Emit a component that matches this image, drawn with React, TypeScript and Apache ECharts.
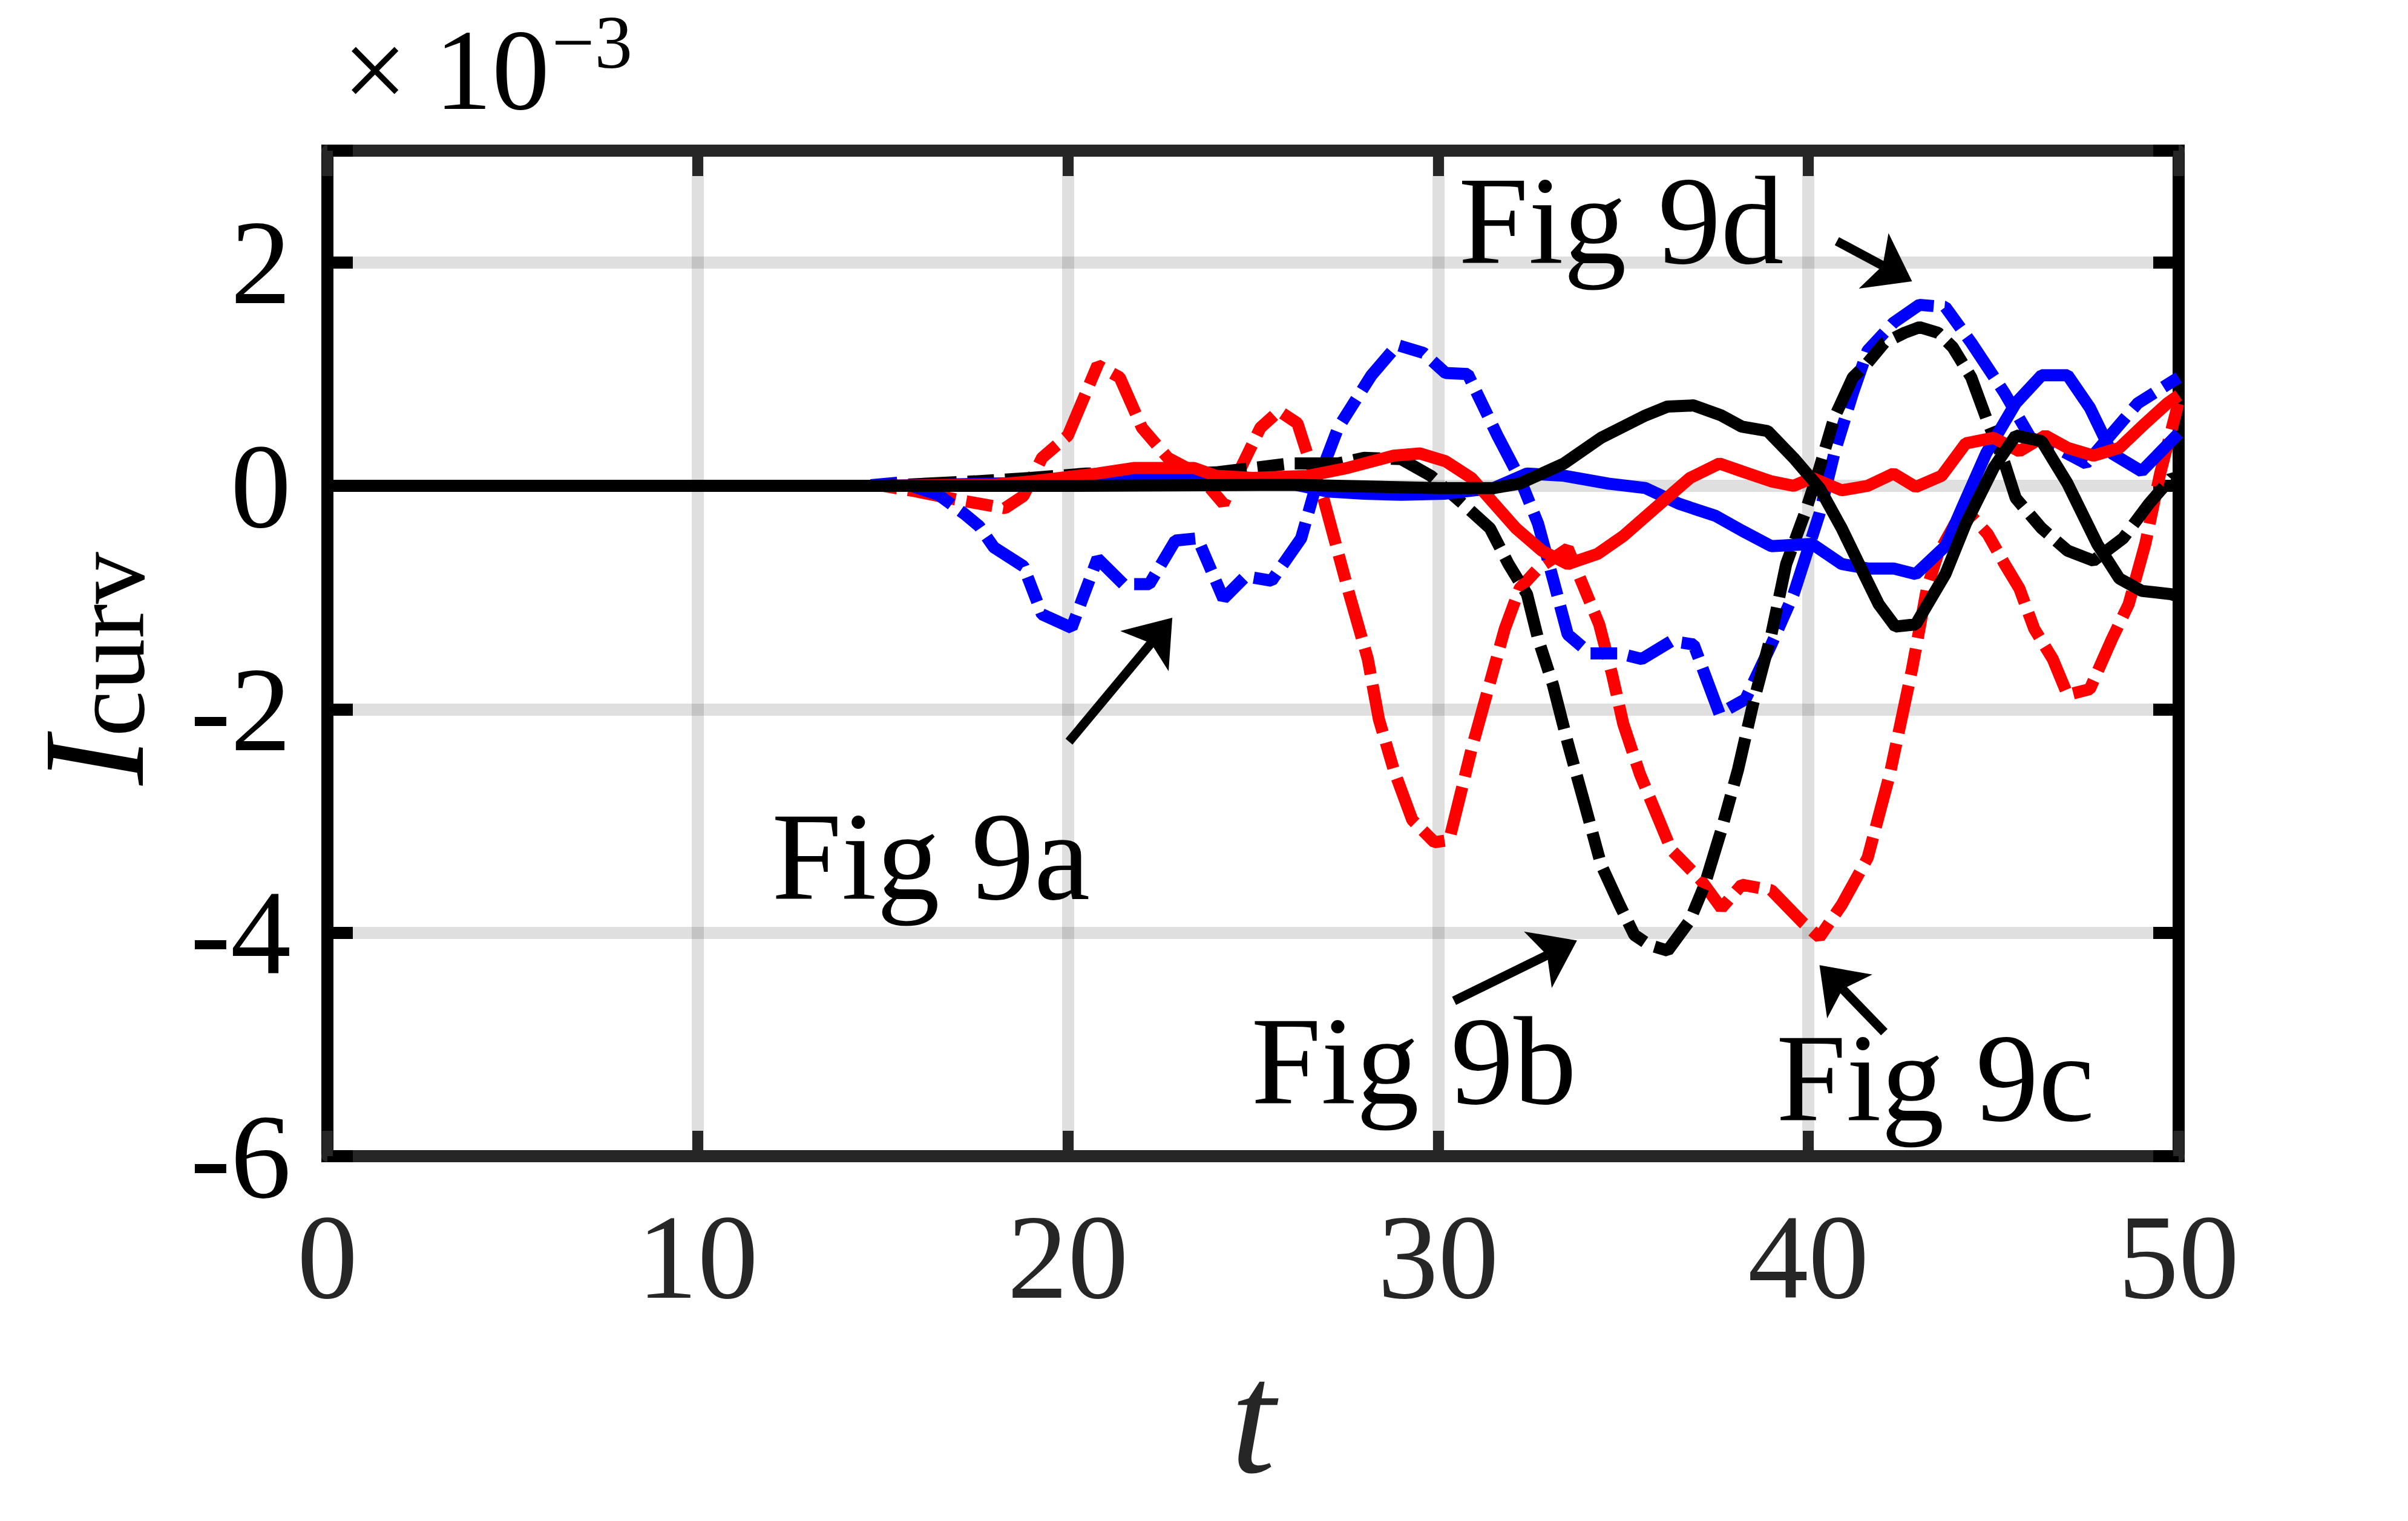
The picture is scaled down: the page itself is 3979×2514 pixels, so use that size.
import React, { useEffect, useRef } from "react";
import * as echarts from "echarts";

const W = 3979;
const H = 2514;
const FONT = "Liberation Serif, Times New Roman, serif";

// ---------- data (I_curv in units of 1e-3) ----------
const redDashT = [0, 15, 15.9, 17.1, 18.3, 18.8, 19.3, 20, 20.8, 21.4, 22, 22.7, 23.5, 24.2, 24.7, 25.2, 25.7, 26.2, 26.5, 26.9, 27.6, 28.1, 28.4, 28.8, 29.3, 29.9, 30.3, 30.9, 31.35, 31.8, 32.2, 32.7, 33.5, 33.9, 34.35, 34.7, 35, 35.45, 35.9, 36.3, 37.1, 37.65, 38.2, 39, 39.85, 40.3, 40.9, 41.6, 42.2, 42.8, 43.2, 43.5, 43.96, 44.4, 44.84, 45.3, 45.7, 46.1, 46.6, 47, 47.6, 48.2, 48.65, 49.1, 49.5, 50];
const redDashY = [0, 0, -0.05, -0.13, -0.2, -0.09, 0.25, 0.45, 1.08, 0.97, 0.52, 0.25, 0.11, -0.16, 0.18, 0.52, 0.67, 0.56, 0.25, -0.11, -0.97, -1.55, -2.09, -2.54, -2.99, -3.19, -3.17, -2.36, -1.82, -1.28, -0.92, -0.74, -0.56, -0.88, -1.24, -1.69, -2.13, -2.58, -2.94, -3.26, -3.53, -3.78, -3.57, -3.62, -3.91, -4.04, -3.75, -3.33, -2.58, -1.64, -0.92, -0.61, -0.34, -0.27, -0.43, -0.7, -0.92, -1.28, -1.55, -1.87, -1.82, -1.37, -1.06, -0.52, 0.11, 0.75];

const blueDashT = [0, 14.5, 15.5, 16.5, 17.2, 17.6, 18, 18.8, 19.3, 20.1, 20.8, 21.5, 22.2, 22.9, 23.5, 24.2, 24.8, 25.5, 26.3, 26.7, 27.3, 28.2, 28.9, 29.6, 30.2, 30.8, 31.6, 32.2, 32.7, 33.1, 33.5, 34.1, 34.9, 35.5, 36.3, 36.9, 37.6, 38.3, 39, 39.6, 40.3, 40.7, 41.2, 41.6, 42.3, 43, 43.7, 44.4, 45.3, 46, 46.7, 47.5, 48.2, 48.9, 50];
const blueDashY = [0, 0, 0.03, -0.08, -0.25, -0.36, -0.55, -0.72, -1.15, -1.27, -0.65, -0.88, -0.88, -0.49, -0.47, -1.01, -0.81, -0.85, -0.47, 0, 0.52, 0.99, 1.26, 1.19, 1.01, 1.0, 0.45, 0.07, -0.34, -0.83, -1.33, -1.5, -1.5, -1.55, -1.39, -1.42, -2.04, -1.91, -1.42, -0.97, -0.25, 0.29, 0.83, 1.21, 1.46, 1.62, 1.6, 1.28, 0.83, 0.43, 0.34, 0.2, 0.47, 0.74, 0.97];

const blackDashT = [0, 15, 17.5, 19, 20.5, 22, 24, 26, 27.3, 28, 29, 29.8, 30.6, 31.4, 31.9, 32.4, 32.7, 33.1, 33.5, 34, 34.4, 34.9, 35.3, 35.7, 36.2, 36.8, 37.2, 37.65, 38.1, 38.5, 39, 39.4, 39.9, 40.3, 40.7, 41.2, 41.6, 42.05, 42.6, 43, 43.5, 43.9, 44.4, 44.8, 45.3, 45.6, 46.3, 47, 47.7, 48.5, 49.2, 49.8, 50];
const blackDashY = [0, 0, 0.04, 0.07, 0.11, 0.1, 0.12, 0.2, 0.2, 0.25, 0.24, 0.09, -0.14, -0.38, -0.7, -0.97, -1.37, -1.78, -2.3, -2.9, -3.39, -3.75, -4.02, -4.11, -4.16, -3.89, -3.57, -3.08, -2.54, -1.96, -1.33, -0.7, -0.25, 0.16, 0.61, 0.97, 1.1, 1.28, 1.37, 1.42, 1.37, 1.24, 0.97, 0.61, 0.2, -0.11, -0.38, -0.58, -0.67, -0.47, -0.16, 0.07, 0.05];

const blueSolidT = [0, 15, 18, 20, 22, 24, 26, 27, 28, 29, 30.2, 31.5, 32.4, 33.4, 34.6, 35.6, 36.5, 37.5, 38.2, 39, 40.1, 40.9, 41.6, 42.3, 42.9, 43.7, 44.2, 44.8, 45.6, 46.3, 47, 47.6, 48.2, 49, 50];
const blueSolidY = [0, 0, 0.02, 0.03, 0.06, 0.05, 0.02, -0.05, -0.07, -0.08, -0.07, -0.02, 0.11, 0.09, 0.02, -0.02, -0.16, -0.27, -0.4, -0.54, -0.52, -0.7, -0.74, -0.74, -0.79, -0.54, -0.16, 0.29, 0.74, 0.99, 0.99, 0.7, 0.29, 0.13, 0.47];

const redSolidT = [0, 15, 18, 19, 20.8, 21.8, 23.4, 24, 25, 26.5, 27.55, 28.8, 29.5, 30.2, 30.9, 32.1, 32.8, 33.5, 34.3, 35, 36, 36.8, 37.6, 38.2, 39, 39.6, 40.1, 40.9, 41.6, 42.3, 42.9, 43.6, 44.25, 45, 45.7, 46.4, 47, 47.7, 48.4, 49.1, 49.7, 50];
const redSolidY = [0, 0, 0.01, 0.04, 0.11, 0.16, 0.16, 0.09, 0.07, 0.09, 0.16, 0.27, 0.29, 0.22, 0.07, -0.38, -0.58, -0.7, -0.61, -0.45, -0.16, 0.07, 0.2, 0.13, 0.04, 0, 0.07, -0.04, 0, 0.11, -0.01, 0.09, 0.38, 0.43, 0.31, 0.45, 0.34, 0.27, 0.34, 0.56, 0.74, 0.81];

const blackSolidT = [0, 10, 20, 26, 30, 31.5, 32.2, 33.4, 34.4, 35.6, 36.2, 36.9, 37.65, 38.2, 38.9, 39.6, 40.3, 40.9, 41.5, 41.9, 42.35, 42.9, 43.7, 44.25, 45, 45.6, 46.3, 47, 47.8, 48.4, 49, 49.8, 50];
const blackSolidY = [0, 0, 0, 0.01, -0.02, -0.02, 0.02, 0.2, 0.43, 0.63, 0.71, 0.72, 0.63, 0.53, 0.49, 0.25, -0.02, -0.38, -0.79, -1.06, -1.26, -1.24, -0.79, -0.34, 0.16, 0.45, 0.4, 0.02, -0.52, -0.83, -0.94, -0.97, -0.99];

// axes
const xMin = 0, xMax = 50, xStep = 10;
const yMin = -6, yMax = 3, yStep = 2;

// annotations: text (left edge t, baseline y) and arrows (tail -> tip)
const noteTexts = ["Fig 9a", "Fig 9b", "Fig 9c", "Fig 9d"];
const noteTextPos = [[12.0, -3.7], [24.95, -5.53], [39.13, -5.68], [30.55, 1.99]];
const arrowTail = [[20.03, -2.29], [30.43, -4.61], [42.05, -4.89], [40.77, 2.19]];
const arrowTip = [[22.82, -1.18], [33.75, -4.07], [40.3, -4.29], [42.8, 1.83]];

const pairs = (t: number[], y: number[]) => t.map((v, i) => [v, y[i]]);

const DASH = [80, 18, 44, 18];

const seriesDefs = [
  { name: "red dash", t: redDashT, y: redDashY, color: "#ff0000", dashed: true },
  { name: "blue dash", t: blueDashT, y: blueDashY, color: "#0000ff", dashed: true },
  { name: "black dash", t: blackDashT, y: blackDashY, color: "#000000", dashed: true },
  { name: "blue solid", t: blueSolidT, y: blueSolidY, color: "#0000ff", dashed: false },
  { name: "red solid", t: redSolidT, y: redSolidY, color: "#ff0000", dashed: false },
  { name: "black solid", t: blackSolidT, y: blackSolidY, color: "#000000", dashed: false },
];

const GRID_COLOR = "rgba(38,38,38,0.15)";
const XCOL = "#262626";
const YCOL = "#000000";
const TICK_FS = 200;
const NOTE_FS = 208;
const CENTRAL = 0.3375; // Liberation Serif: central baseline offset (em)

export default function App() {
  const ref = useRef<HTMLDivElement>(null);
  useEffect(() => {
    const chart = echarts.init(ref.current!, null, { renderer: "svg", width: W, height: H });
    const xBase = (pos: string, main: boolean) => ({
      type: "value",
      position: pos,
      min: xMin,
      max: xMax,
      interval: xStep,
      axisLine: { show: true, onZero: false, lineStyle: { color: XCOL, width: 20 } },
      axisTick: { show: true, inside: true, length: 42, lineStyle: { color: XCOL, width: 18 } },
      axisLabel: {
        show: main,
        margin: 66,
        fontSize: TICK_FS,
        fontFamily: FONT,
        color: XCOL,
      },
      splitLine: { show: main, lineStyle: { color: GRID_COLOR, width: 20 } },
      name: main ? "t" : "",
      nameLocation: "middle",
      nameGap: 300,
      nameTextStyle: { fontStyle: "italic", fontSize: 265, fontFamily: FONT, color: XCOL },
    });
    const yBase = (pos: string, main: boolean) => ({
      type: "value",
      position: pos,
      min: yMin,
      max: yMax,
      interval: yStep,
      axisLine: { show: true, onZero: false, lineStyle: { color: YCOL, width: 20, cap: "square" } },
      axisTick: { show: true, inside: true, length: 42, lineStyle: { color: YCOL, width: 20 } },
      axisLabel: {
        show: main,
        margin: 60,
        fontSize: TICK_FS,
        fontFamily: FONT,
        color: YCOL,
        formatter: (v: number) => (v === yMax ? "" : String(v)),
      },
      splitLine: { show: main, lineStyle: { color: GRID_COLOR, width: 20 } },
      name: main ? "{i|I}{s|curv}" : "",
      nameLocation: "middle",
      nameGap: 276,
      nameTextStyle: {
        color: YCOL,
        fontFamily: FONT,
        rich: {
          i: { fontSize: 240, fontStyle: "italic", fontFamily: FONT, lineHeight: 220, color: YCOL },
          s: {
            fontSize: 172,
            fontFamily: FONT,
            lineHeight: 100,
            verticalAlign: "bottom",
            color: YCOL,
            padding: [0, 50, 0, 0],
          },
        },
      },
    });

    chart.setOption({
      animation: false,
      backgroundColor: "#ffffff",
      grid: { left: 541, right: 379, top: 249, bottom: 603, containLabel: false },
      xAxis: [xBase("bottom", true), xBase("top", false)],
      yAxis: [yBase("left", true), yBase("right", false)],
      series: seriesDefs.map((d) => ({
        name: d.name,
        type: "line",
        xAxisIndex: 0,
        yAxisIndex: 0,
        data: pairs(d.t, d.y),
        showSymbol: false,
        symbol: "none",
        silent: true,
        clip: true,
        itemStyle: { color: d.color },
        lineStyle: { color: d.color, width: 20, type: d.dashed ? DASH : "solid" },
      })),
    });

    const px = (p: number[]) => chart.convertToPixel({ xAxisIndex: 0, yAxisIndex: 0 }, p) as number[];
    const HEAD_L = 72, HEAD_W = 52, HEAD_N = 55;
    const graphics: any[] = [];
    arrowTail.forEach((tail, k) => {
      const [x1, y1] = px(tail);
      const [x2, y2] = px(arrowTip[k]);
      const dx = x2 - x1, dy = y2 - y1;
      const len = Math.hypot(dx, dy);
      const ux = dx / len, uy = dy / len;
      const nx = -uy, ny = ux;
      const bx = x2 - ux * HEAD_L, by = y2 - uy * HEAD_L;
      const notch = [x2 - ux * HEAD_N, y2 - uy * HEAD_N];
      graphics.push({
        type: "line",
        shape: { x1, y1, x2: notch[0], y2: notch[1] },
        style: { stroke: "#000", lineWidth: 15 },
        z: 10,
      });
      graphics.push({
        type: "polygon",
        shape: {
          points: [
            [x2, y2],
            [bx + nx * HEAD_W, by + ny * HEAD_W],
            notch,
            [bx - nx * HEAD_W, by - ny * HEAD_W],
          ],
        },
        style: { fill: "#000" },
        z: 10,
      });
    });
    noteTexts.forEach((txt, k) => {
      const [x, y] = px(noteTextPos[k]);
      graphics.push({
        type: "text",
        x,
        y: y - CENTRAL * NOTE_FS,
        z: 10,
        style: {
          text: txt,
          fontSize: NOTE_FS,
          fontFamily: FONT,
          fill: "#000",
          lineHeight: 180,
          textAlign: "left",
          align: "left",
          textVerticalAlign: "middle",
          verticalAlign: "middle",
        },
      });
    });
    // multiplier ×10^-3
    graphics.push({
      type: "text",
      x: 566,
      y: 180 - CENTRAL * 190,
      z: 10,
      style: {
        text: "{a|×}{b|10}",
        fontFamily: FONT,
        fill: "#000",
        textAlign: "left",
        align: "left",
        textVerticalAlign: "middle",
        verticalAlign: "middle",
        rich: {
          a: { fontSize: 190, fontFamily: FONT, width: 152, lineHeight: 150 },
          b: { fontSize: 190, fontFamily: FONT, lineHeight: 150 },
        },
      },
    });
    graphics.push({
      type: "text",
      x: 912,
      y: 112 - CENTRAL * 125,
      z: 10,
      style: {
        text: "−3",
        fontSize: 125,
        fontFamily: FONT,
        fill: "#000",
        lineHeight: 90,
        textAlign: "left",
        align: "left",
        textVerticalAlign: "middle",
        verticalAlign: "middle",
      },
    });
    chart.setOption({ graphic: graphics });

    return () => chart.dispose();
  }, []);
  return (
    <div
      ref={ref}
      style={{ position: "fixed", left: 0, top: 0, width: W, height: H, background: "#fff" }}
    />
  );
}
